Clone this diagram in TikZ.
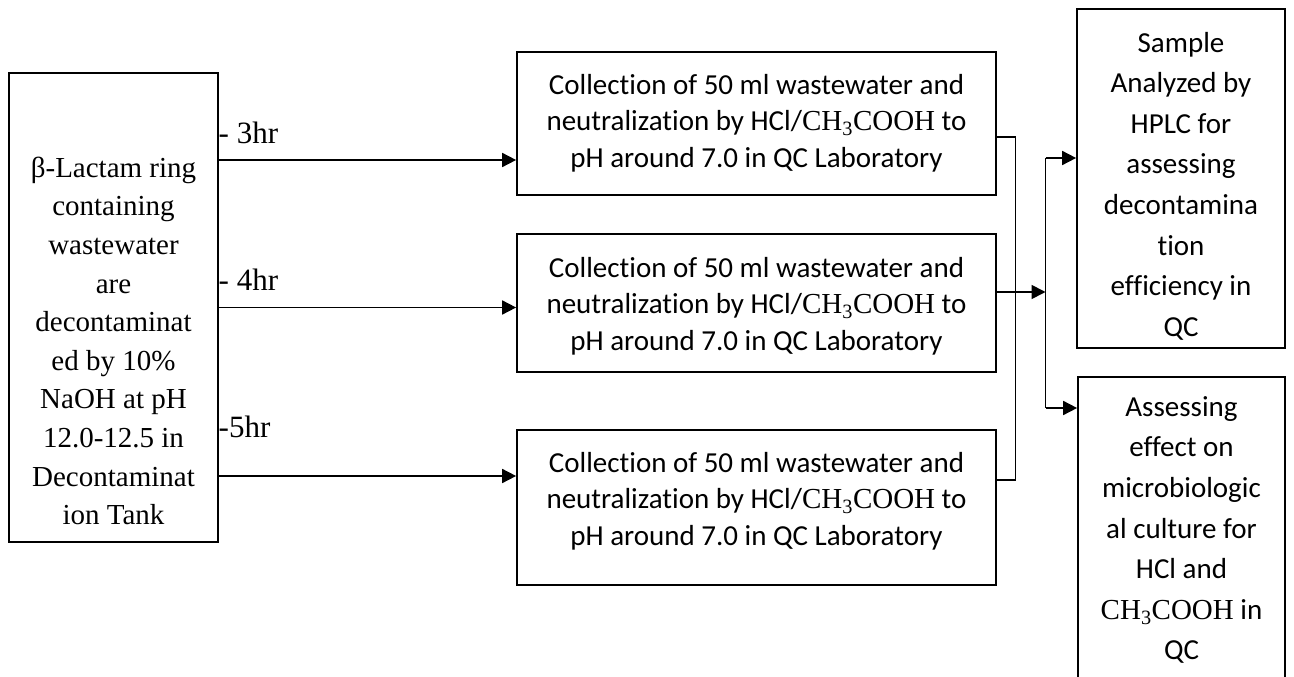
\documentclass[tikz,border=0pt]{standalone}
\usepackage{fontspec}
\setmainfont{Liberation Serif}
\newfontfamily\calibri[Ligatures=NoCommon]{Carlito}
\usetikzlibrary{arrows.meta}
\newcommand{\acid}{{\rmfamily CH\textsubscript{3}COOH}}
\tikzset{
  box/.style={draw, line width=1.7pt, inner sep=0pt},
  wire/.style={line width=1.7pt},
  arr/.style={wire, -{Triangle[length=14pt,width=14pt]}},
  serif/.style={inner sep=0pt, align=center, font=\fontsize{29}{38.6}\selectfont\rmfamily},
  sans/.style={inner sep=0pt, align=center, font=\fontsize{29}{36.5}\selectfont\calibri},
  tall/.style={inner sep=0pt, align=center, font=\fontsize{29}{40.6}\selectfont\calibri},
  lbl/.style={inner sep=0pt, anchor=base west, font=\fontsize{31}{34}\selectfont\rmfamily},
}
\begin{document}
\begin{tikzpicture}[x=1pt,y=-1pt]
\useasboundingbox (0,0) rectangle (1294,677);
\clip (0,0) rectangle (1294,677);

% source tank
\node[box, minimum width=209pt, minimum height=469pt] (tank) at (113.5,307.5) {};
\node[serif] (tanktext) at (113.5,341) {β-Lactam ring\\containing\\wastewater\\are\\decontaminat\\ed by 10\%\\NaOH at pH\\12.0-12.5 in\\Decontaminat\\ion Tank};

% sampling boxes
\node[box, minimum width=479pt, minimum height=143pt] (c1) at (756.5,123.5) {};
\node[box, minimum width=479pt, minimum height=138pt] (c2) at (756.5,303) {};
\node[box, minimum width=479pt, minimum height=155pt] (c3) at (756.5,507.5) {};
\node[sans] (c1text) at (756.5,123) {Collection of 50 ml wastewater and\\neutralization by HCl/\acid{} to\\pH around 7.0 in QC Laboratory};
\node[sans] (c2text) at (756.5,306) {Collection of 50 ml wastewater and\\neutralization by HCl/\acid{} to\\pH around 7.0 in QC Laboratory};
\node[sans] (c3text) at (756.5,501) {Collection of 50 ml wastewater and\\neutralization by HCl/\acid{} to\\pH around 7.0 in QC Laboratory};

% analysis boxes
\node[box, minimum width=208pt, minimum height=339pt] (r1) at (1181,178.5) {};
\node[box, minimum width=207pt, minimum height=350pt] (r2) at (1181.5,552) {};
\node[tall] (r1text) at (1181,186) {Sample\\Analyzed by\\HPLC for\\assessing\\decontamina\\tion\\efficiency in\\QC};
\node[tall] (r2text) at (1181.5,530) {Assessing\\effect on\\microbiologic\\al culture for\\HCl and\\\acid{} in\\QC};

% time labels
\node[lbl] (l3) at (218.5,143) {- 3hr};
\node[lbl] (l4) at (218.5,290) {- 4hr};
\node[lbl] (l5) at (218.5,437) {-5hr};

% helper levels
\coordinate (y3) at (0,160);
\coordinate (y5) at (0,476);
\coordinate (o1) at (0,137);
\coordinate (o2) at (0,292);
\coordinate (o3) at (0,480);
\coordinate (bus) at (1015.5,0);
\coordinate (split) at (1045.5,0);
\coordinate (t1) at (0,158);
\coordinate (t2) at (0,408);

% sampling arrows
\draw[arr] (tank.east |- y3) -- (c1.west |- y3);
\draw[arr] (tank.east) -- (c2.west |- tank.east);
\draw[arr] (tank.east |- y5) -- (c3.west |- y5);

% collecting lines
\draw[wire] (c1.east |- o1) -- (bus |- o1) -- (bus |- o3) -- (c3.east |- o3);
\draw[arr] (c2.east |- o2) -- (split |- o2);

% split to analyses
\draw[wire] (split |- t1) -- (split |- t2);
\draw[arr] (split |- t1) -- (r1.west |- t1);
\draw[arr] (split |- t2) -- (r2.west |- t2);
\end{tikzpicture}
\end{document}
